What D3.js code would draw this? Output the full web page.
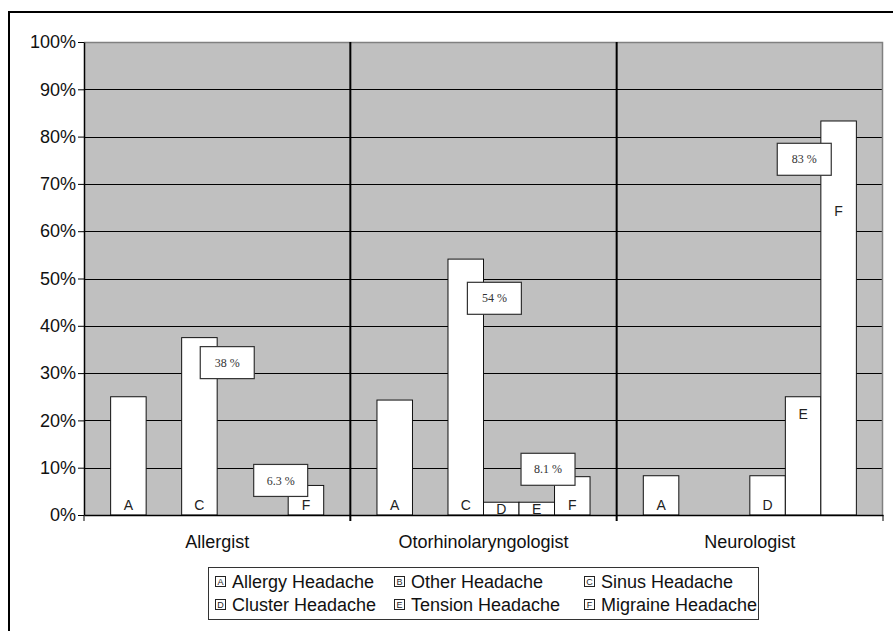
<!DOCTYPE html>
<html>
<head>
<meta charset="utf-8">
<script src="https://cdn.jsdelivr.net/npm/d3@7"></script>
<style>
  html, body { margin: 0; padding: 0; background: #fff; }
  svg { display: block; font-family: "Liberation Sans", Arial, sans-serif; }
</style>
</head>
<body>
<svg id="chart" width="893" height="631"></svg>
<script>
// Referring specialty for each physician group
const categories = ["Allergist", "Otorhinolaryngologist", "Neurologist"];

// Headache diagnoses (series) and their letter codes
const seriesNames = ["Allergy Headache", "Other Headache", "Sinus Headache",
                     "Cluster Headache", "Tension Headache", "Migraine Headache"];
const seriesCodes = ["A", "B", "C", "D", "E", "F"];

// Percent of patients per diagnosis, one value per specialty
const allergyHeadache  = [25.0, 24.3, 8.3];
const otherHeadache    = [0, 0, 0];
const sinusHeadache    = [37.5, 54.1, 0];
const clusterHeadache  = [0, 2.7, 8.3];
const tensionHeadache  = [0, 2.7, 25.0];
const migraineHeadache = [6.25, 8.1, 83.3];

// Y axis ticks (percent)
const yTicks = [0, 10, 20, 30, 40, 50, 60, 70, 80, 90, 100];

// Bars that carry a value callout
const calloutBars = [
  { cat: "Allergist", code: "C" },
  { cat: "Allergist", code: "F" },
  { cat: "Otorhinolaryngologist", code: "C" },
  { cat: "Otorhinolaryngologist", code: "F" },
  { cat: "Neurologist", code: "F" }
];

// ---- layout (pixels) ----
const SANS = "'Liberation Sans', Arial, sans-serif";
const SERIF = "'Liberation Serif', 'Times New Roman', serif";
const plot = { left: 84, right: 883, top: 42, bottom: 515 };
const calloutBox = { w: 54, h: 32 };
const calloutOffsets = {            // box corner relative to bar left / bar top
  "Allergist|C": [18.6, 9],
  "Allergist|F": [-34.5, -21],
  "Otorhinolaryngologist|C": [19.4, 23.2],
  "Otorhinolaryngologist|F": [-33.5, -23.4],
  "Neurologist|F": [-43.6, 22.3]
};
const letterOffsets = {             // letter centre below bar top, where moved by hand
  "Neurologist|E": 17.6,
  "Neurologist|F": 90
};

const seriesValues = [allergyHeadache, otherHeadache, sinusHeadache,
                      clusterHeadache, tensionHeadache, migraineHeadache];

const rows = [];
categories.forEach((cat, ci) => {
  seriesCodes.forEach((code, si) => {
    rows.push({ cat, code, value: seriesValues[si][ci] });
  });
});

const svg = d3.select("#chart");

// Outer chart frame
svg.append("rect")
  .attr("x", 9).attr("y", 12)
  .attr("width", 950).attr("height", 700)
  .attr("fill", "#fff").attr("stroke", "#000").attr("stroke-width", 2);

const x0 = d3.scaleBand().domain(categories)
  .range([plot.left, plot.right]).paddingInner(0).paddingOuter(0);
const x1 = d3.scaleBand().domain(seriesCodes)
  .range([0, x0.bandwidth()]).paddingInner(0).paddingOuter(0.75);
const y = d3.scaleLinear().domain([0, 100]).range([plot.bottom, plot.top]);

// Plot background
svg.append("rect")
  .attr("x", plot.left).attr("y", plot.top)
  .attr("width", plot.right - plot.left).attr("height", plot.bottom - plot.top)
  .attr("fill", "#c0c0c0");

// Horizontal gridlines
svg.append("g").selectAll("line")
  .data(yTicks.filter(t => t > 0 && t < 100))
  .join("line")
  .attr("x1", plot.left).attr("x2", plot.right)
  .attr("y1", d => Math.round(y(d)) + 0.5).attr("y2", d => Math.round(y(d)) + 0.5)
  .attr("stroke", "#000").attr("stroke-width", 1);

// Plot border (top / right)
svg.append("path")
  .attr("d", `M${plot.left},${plot.top + 0.5}H${plot.right - 0.5}V${plot.bottom}`)
  .attr("fill", "none").attr("stroke", "#808080").attr("stroke-width", 1.5);

// Bars
svg.append("g").selectAll("rect")
  .data(rows.filter(d => d.value > 0))
  .join("rect")
  .attr("x", d => x0(d.cat) + x1(d.code))
  .attr("y", d => y(d.value))
  .attr("width", x1.bandwidth())
  .attr("height", d => y(0) - y(d.value))
  .attr("fill", "#fff").attr("stroke", "#111").attr("stroke-width", 1);

// Group dividers between specialties
svg.append("g").selectAll("line")
  .data(categories.slice(1))
  .join("line")
  .attr("x1", d => x0(d)).attr("x2", d => x0(d))
  .attr("y1", plot.top).attr("y2", plot.bottom + 6)
  .attr("stroke", "#000").attr("stroke-width", 2);

// Y axis
const yAxis = svg.append("g")
  .attr("transform", `translate(${plot.left},0)`)
  .call(d3.axisLeft(y).tickValues(yTicks).tickFormat(d => d + "%")
    .tickSize(6).tickSizeOuter(0));
yAxis.select(".domain").attr("stroke", "#000").attr("stroke-width", 1.5);
yAxis.selectAll(".tick line").attr("stroke", "#000");
yAxis.selectAll(".tick text")
  .attr("x", -8)
  .style("font-family", SANS).style("font-size", "18px").style("fill", "#111");

// X axis (category labels)
const xAxis = svg.append("g")
  .attr("transform", `translate(0,${plot.bottom})`)
  .call(d3.axisBottom(x0).tickSize(0).tickSizeOuter(0));
xAxis.select(".domain").attr("stroke", "#000").attr("stroke-width", 1.5);
xAxis.selectAll(".tick text")
  .attr("y", 20).attr("dy", "0.71em")
  .style("font-family", SANS).style("font-size", "18px").style("fill", "#111");
// tick marks at the two ends of the category axis
svg.append("g").selectAll("line")
  .data([plot.left, plot.right])
  .join("line")
  .attr("x1", d => d).attr("x2", d => d)
  .attr("y1", plot.bottom).attr("y2", plot.bottom + 6)
  .attr("stroke", "#000").attr("stroke-width", 1);

// Letter codes inside bars
svg.append("g").selectAll("text")
  .data(rows.filter(d => d.value > 0))
  .join("text")
  .attr("x", d => x0(d.cat) + x1(d.code) + x1.bandwidth() / 2)
  .attr("y", d => {
    const top = y(d.value);
    const key = d.cat + "|" + d.code;
    if (letterOffsets[key] !== undefined) return top + letterOffsets[key];
    return Math.max(y(0) - 10, top + 7);
  })
  .attr("dy", "0.36em")
  .attr("text-anchor", "middle")
  .style("font-family", SANS).style("font-size", "14px").style("fill", "#222")
  .text(d => d.code);

// Value callouts
const callouts = svg.append("g").selectAll("g")
  .data(calloutBars.map(c => {
    const row = rows.find(r => r.cat === c.cat && r.code === c.code);
    const off = calloutOffsets[c.cat + "|" + c.code];
    return {
      ...row,
      bx: x0(row.cat) + x1(row.code) + off[0],
      by: y(row.value) + off[1]
    };
  }))
  .join("g")
  .attr("transform", d => `translate(${d.bx},${d.by})`);
callouts.append("rect")
  .attr("width", calloutBox.w).attr("height", calloutBox.h)
  .attr("fill", "#fff").attr("stroke", "#333").attr("stroke-width", 1.2);
callouts.append("text")
  .attr("x", calloutBox.w / 2).attr("y", calloutBox.h / 2)
  .attr("dy", "0.35em").attr("text-anchor", "middle")
  .style("font-family", SERIF).style("font-size", "12px").style("fill", "#333")
  .text(d => d.value.toPrecision(2) + " %");

// Legend
const legend = { x: 208, y: 567, w: 550, h: 52 };
svg.append("rect")
  .attr("x", legend.x + 0.5).attr("y", legend.y + 0.5)
  .attr("width", legend.w).attr("height", legend.h)
  .attr("fill", "#fff").attr("stroke", "#333").attr("stroke-width", 1);
const colX = [215, 394, 584];
const rowY = [582, 605];
const items = svg.append("g").selectAll("g")
  .data(seriesNames.map((name, i) => ({ name, code: seriesCodes[i], i })))
  .join("g")
  .attr("transform", d => `translate(${colX[d.i % 3]},${rowY[Math.floor(d.i / 3)]})`);
items.append("rect")
  .attr("x", 0.5).attr("y", -5.5).attr("width", 10).attr("height", 10)
  .attr("fill", "#fff").attr("stroke", "#222").attr("stroke-width", 1);
items.append("text")
  .attr("x", 5.5).attr("y", 0).attr("dy", "0.36em")
  .attr("text-anchor", "middle")
  .style("font-family", SANS).style("font-size", "9px").style("fill", "#222")
  .text(d => d.code);
items.append("text")
  .attr("x", 17).attr("y", 0).attr("dy", "0.36em")
  .style("font-family", SANS).style("font-size", "18px").style("fill", "#111")
  .text(d => d.name);
</script>
</body>
</html>
